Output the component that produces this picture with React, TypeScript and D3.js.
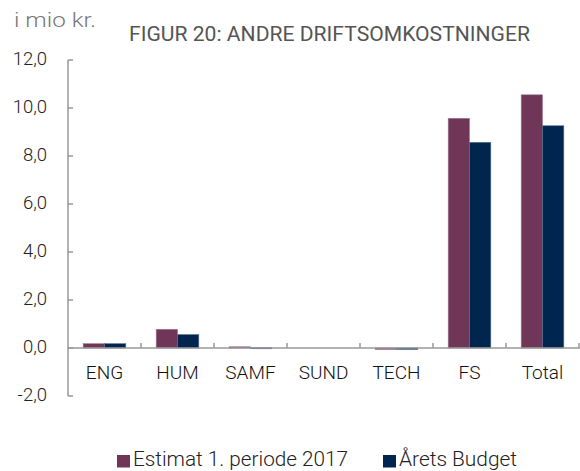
import React from "react";
import * as d3 from "d3";

const categories = ["ENG", "HUM", "SAMF", "SUND", "TECH", "FS", "Total"];
const estimat = [0.18, 0.78, 0.05, 0, -0.06, 9.57, 10.55];
const budget = [0.18, 0.56, 0.01, 0, -0.06, 8.57, 9.26];
const seriesNames = ["Estimat 1. periode 2017", "Årets Budget"];
const seriesColors = ["#703658", "#00264f"];
const yTicks = [-2, 0, 2, 4, 6, 8, 10, 12];

const W = 580;
const H = 471;
const left = 68;
const right = 579;
const top = 60;
const bottom = 396;
const font = "Roboto, 'DejaVu Sans', sans-serif";

export default function App() {
  const x = d3.scaleBand<string>().domain(categories).range([left, right]).paddingInner(0.416).paddingOuter(0.208);
  const xs = d3.scaleBand<number>().domain([0, 1]).range([0, x.bandwidth()]);
  const y = d3.scaleLinear().domain([-2, 12]).range([bottom, top]);
  const step = x.step();
  const fmt = (v: number) => v.toFixed(1).replace(".", ",");
  const series = [estimat, budget];

  return (
    <svg width={W} height={H} style={{ position: "absolute", left: 0, top: 0, background: "#fff" }}>
      <text x={14} y={27} fontFamily={font} fontWeight={300} fontSize={20} fill="#777" textLength={82} lengthAdjust="spacingAndGlyphs">i mio kr.</text>
      <text x={129} y={41} fontFamily={font} fontWeight={400} fontSize={19.5} fill="#555" textLength={401} lengthAdjust="spacingAndGlyphs">FIGUR 20: ANDRE DRIFTSOMKOSTNINGER</text>

      {yTicks.map((t) => (
        <g key={t}>
          <line x1={left} x2={left + 5} y1={y(t)} y2={y(t)} stroke="#999" strokeWidth={1.5} />
          <text x={47} y={y(t) + 5} textAnchor="end" fontFamily={font} fontWeight={300} fontSize={18.5} fill="#222">{fmt(t)}</text>
        </g>
      ))}

      {series.map((vals, si) =>
        categories.map((c, i) => {
          const v = vals[i];
          if (v === 0) return null;
          const y0 = y(0);
          const y1 = y(v);
          return (
            <rect
              key={si + c}
              x={(x(c) as number) + (xs(si) as number)}
              y={Math.min(y0, y1)}
              width={xs.bandwidth()}
              height={Math.max(1, Math.abs(y1 - y0))}
              fill={seriesColors[si]}
              stroke={si === 0 ? "#a0788e" : "#5a7090"}
              strokeWidth={0.6}
            />
          );
        })
      )}

      <line x1={left} x2={left} y1={top} y2={bottom} stroke="#999" strokeWidth={1.5} />
      <line x1={left} x2={W} y1={y(0)} y2={y(0)} stroke="#999" strokeWidth={1.5} />
      {categories.map((c, i) => (
        <line key={"t" + c} x1={left + step * (i + 1)} x2={left + step * (i + 1)} y1={y(0)} y2={y(0) - 5} stroke="#999" strokeWidth={1.5} />
      ))}

      {categories.map((c) => (
        <text key={"l" + c} x={(x(c) as number) + x.bandwidth() / 2} y={378.5} textAnchor="middle" fontFamily={font} fontWeight={300} fontSize={19} fill="#111">{c}</text>
      ))}

      <rect x={117} y={455} width={13} height={12.5} fill={seriesColors[0]} />
      <text x={133} y={466} fontFamily={font} fontWeight={300} fontSize={19.5} fill="#222" textLength={215} lengthAdjust="spacingAndGlyphs">{seriesNames[0]}</text>
      <rect x={383} y={455} width={13} height={12.5} fill={seriesColors[1]} />
      <text x={399} y={466} fontFamily={font} fontWeight={300} fontSize={19.5} fill="#222" textLength={118} lengthAdjust="spacingAndGlyphs">{seriesNames[1]}</text>
    </svg>
  );
}
